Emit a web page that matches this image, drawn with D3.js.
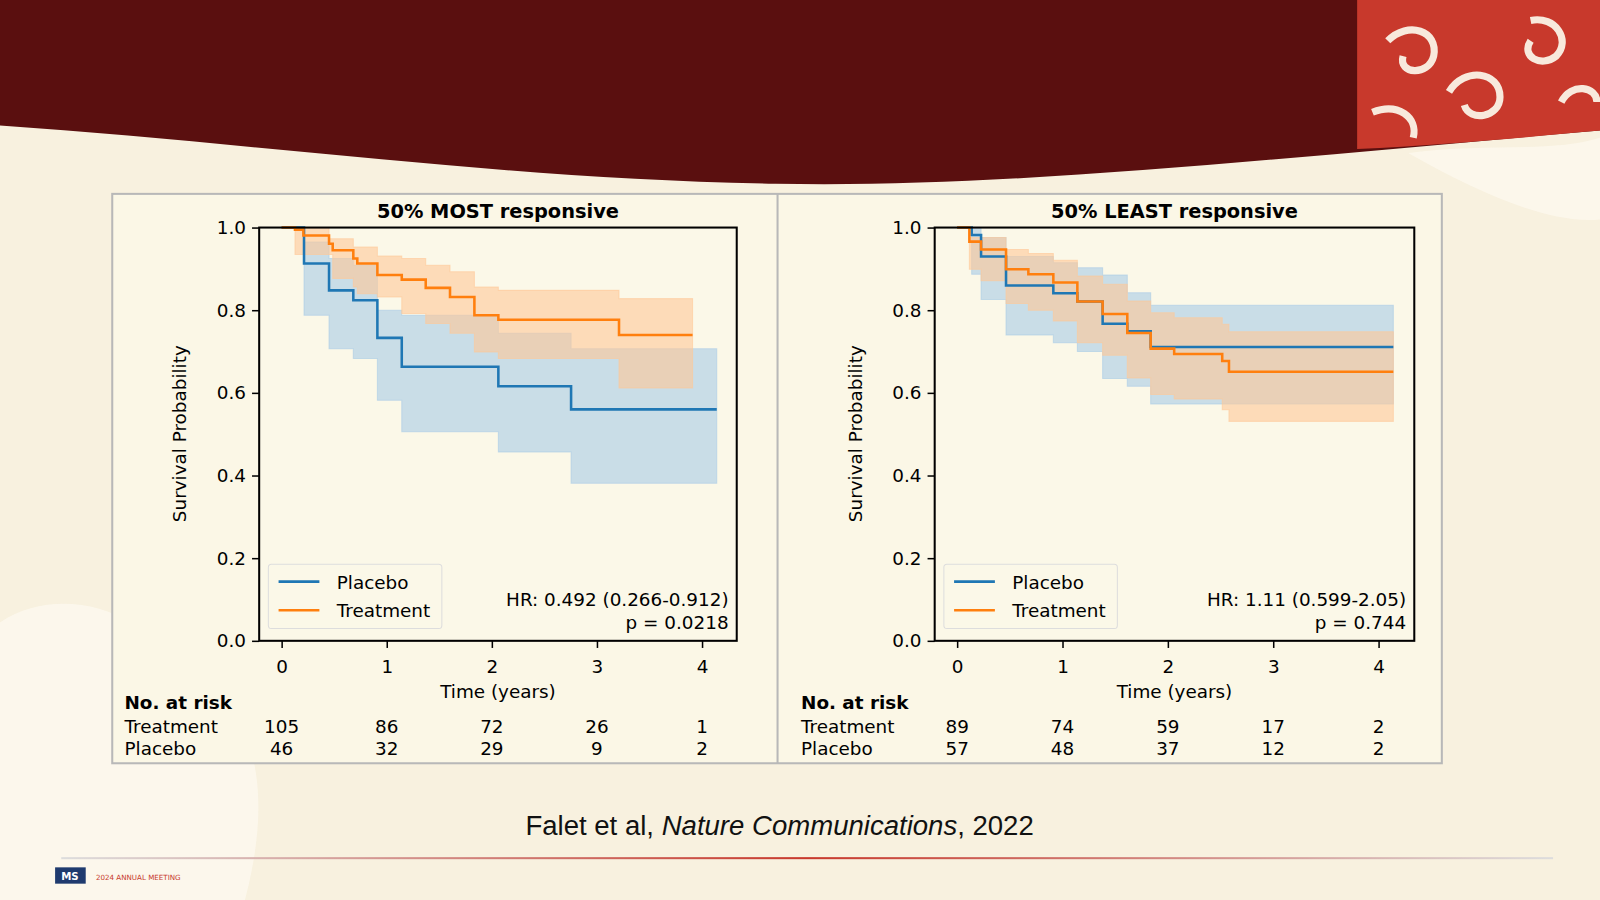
<!DOCTYPE html>
<html><head><meta charset="utf-8">
<script src="https://cdn.jsdelivr.net/npm/d3@7"></script>
<style>body{margin:0;background:#f8f1df;overflow:hidden}text{font-family:"DejaVu Sans",sans-serif}text.cap{font-family:"Liberation Sans",Arial,sans-serif}</style>
</head><body><svg id="c" width="1600" height="900" viewBox="0 0 1568 882"></svg>
<script>
// ---- data ----
const panels = [
  { title: "50% MOST responsive", hr: "HR: 0.492 (0.266-0.912)", p: "p = 0.0218",
    placebo: { t: [0.213,0.451,0.682,0.911,1.143,2.062,2.754], s: [0.913,0.848,0.824,0.733,0.663,0.616,0.560],
               lo: [0.788,0.707,0.683,0.582,0.506,0.457,0.381], hi: [0.965,0.925,0.909,0.80,0.788,0.744,0.707], end: 4.14 },
    treat: { t: [0.127,0.207,0.451,0.486,0.682,0.72,0.911,1.143,1.371,1.602,1.834,2.062,3.21],
             s: [0.995,0.981,0.961,0.945,0.925,0.913,0.885,0.874,0.854,0.832,0.788,0.777,0.740],
             hi: [1.0,1.0,0.973,0.973,0.953,0.953,0.931,0.925,0.909,0.893,0.856,0.848,0.828],
             lo: [0.935,0.935,0.935,0.877,0.856,0.84,0.832,0.792,0.768,0.744,0.699,0.683,0.612], end: 3.91 },
    riskT: [105,86,72,26,1], riskP: [46,32,29,9,2] },
  { title: "50% LEAST responsive", hr: "HR: 1.11 (0.599-2.05)", p: "p = 0.744",
    placebo: { t: [0.138,0.227,0.464,0.913,1.141,1.381,1.615,1.837], s: [0.982,0.930,0.860,0.841,0.821,0.767,0.749,0.711],
               lo: [0.887,0.826,0.74,0.721,0.70,0.635,0.616,0.573], hi: [1.0,0.976,0.93,0.915,0.903,0.885,0.842,0.812], end: 4.14 },
    treat: { t: [0.116,0.227,0.464,0.676,0.913,1.141,1.381,1.615,1.837,2.06,2.516,2.58],
             s: [0.966,0.947,0.899,0.887,0.867,0.821,0.791,0.745,0.707,0.694,0.677,0.651],
             hi: [0.976,0.976,0.947,0.937,0.921,0.883,0.863,0.822,0.794,0.782,0.766,0.748],
             lo: [0.899,0.871,0.816,0.80,0.774,0.721,0.691,0.636,0.596,0.585,0.559,0.531], end: 4.14 },
    riskT: [89,74,59,17,2], riskP: [57,48,37,12,2] }
];
const xTicks = [0,1,2,3,4];
const yTicks = [0,0.2,0.4,0.6,0.8,1.0];
const blue = "#1f77b4", orange = "#ff7f0e";
const bands = { [blue]: "#a9cbe6", [orange]: "#ffc898" };

const svg = d3.select("#c");
// background
svg.append("rect").attr("width",1568).attr("height",882).attr("fill","#f8f1df");
svg.append("path").attr("d","M0,0H1568V128C1300,150 1000,185 760,180C500,176 250,140 0,123Z").attr("fill","#5a0f0f");
svg.append("path").attr("d","M1330,0H1568V128C1500,134 1420,142 1330,146Z").attr("fill","#c8392c");
svg.append("g").attr("fill","none").attr("stroke","#f8e9dc").attr("stroke-width",7)
  .selectAll("path").data(["M1360,40c20,-20 50,-10 45,15c-5,20 -35,18 -30,0","M1420,90c15,-25 50,-20 50,5c0,20 -30,25 -35,8",
    "M1500,20c25,-5 40,20 25,35c-15,12 -35,0 -25,-15","M1530,100c10,-20 35,-15 35,0","M1345,110c25,-10 45,5 40,25"])
  .join("path").attr("d",d=>d);
svg.append("path").attr("d","M0,610C60,570 150,600 170,660C250,680 270,770 240,882H0Z").attr("fill","#fdf9ef").attr("opacity",0.8);
svg.append("path").attr("d","M1380,150C1450,140 1520,150 1568,135V215C1520,220 1450,190 1380,150Z").attr("fill","#fdf9ef").attr("opacity",0.7);

// panel box
svg.append("rect").attr("x",110).attr("y",190).attr("width",1303).attr("height",558)
  .attr("fill","#fbf7e6").attr("stroke","#b8b8b8").attr("stroke-width",2);
svg.append("line").attr("x1",762).attr("x2",762).attr("y1",190).attr("y2",748).attr("stroke","#b8b8b8").attr("stroke-width",2);

const geo = [{x0:254,x1:722,t0:276,t4:688,ylab:182,tab:122},{x0:916,x1:1386,t0:938,t4:1351,ylab:845,tab:785}];

panels.forEach((P,i) => {
  const G = geo[i];
  const x = d3.scaleLinear().domain([0,4]).range([G.t0,G.t4]);
  const y = d3.scaleLinear().domain([0,1]).range([628,223]);
  const g = svg.append("g");
  g.append("rect").attr("x",G.x0).attr("y",223).attr("width",G.x1-G.x0).attr("height",405).attr("fill","#fbf8e8");

  const draw = (D,col) => {
    const pts = [{t:0,s:1,lo:1,hi:1}].concat(D.t.map((t,k)=>({t,s:D.s[k],lo:D.lo[k],hi:D.hi[k]})));
    pts.push(Object.assign({},pts[pts.length-1],{t:D.end}));
    g.append("path").datum(pts).attr("fill",bands[col]).attr("fill-opacity",0.6).attr("stroke",bands[col]).attr("stroke-opacity",0.6)
      .attr("d",d3.area().curve(d3.curveStepAfter).x(d=>x(d.t)).y0(d=>y(d.lo)).y1(d=>y(d.hi)));
    return () => g.append("path").datum(pts).attr("fill","none").attr("stroke",col).attr("stroke-width",2.5)
      .attr("d",d3.line().curve(d3.curveStepAfter).x(d=>x(d.t)).y(d=>y(d.s)));
  };
  const lp = draw(P.placebo,blue), lt = draw(P.treat,orange);
  lp(); lt();

  g.append("rect").attr("x",G.x0).attr("y",223).attr("width",G.x1-G.x0).attr("height",405).attr("fill","none").attr("stroke","#000").attr("stroke-width",2);
  g.append("g").attr("transform","translate(0,628)").call(d3.axisBottom(x).tickValues(xTicks).tickSize(7).tickPadding(12).tickFormat(d3.format("d")))
    .call(a=>{a.select(".domain").remove();a.selectAll("text").attr("font-size",18).attr("font-family","DejaVu Sans").attr("fill","#000");a.selectAll("line").attr("stroke-width",1.5);});
  g.append("g").attr("transform",`translate(${G.x0},0)`).call(d3.axisLeft(y).tickValues(yTicks).tickSize(7).tickPadding(6).tickFormat(d3.format(".1f")))
    .call(a=>{a.select(".domain").remove();a.selectAll("text").attr("font-size",18).attr("font-family","DejaVu Sans").attr("fill","#000");a.selectAll("line").attr("stroke-width",1.5);});

  g.append("text").attr("x",(G.x0+G.x1)/2).attr("y",214).attr("text-anchor","middle").attr("font-size",19).attr("font-weight","bold").text(P.title);
  g.append("text").attr("transform",`translate(${G.ylab},425) rotate(-90)`).attr("text-anchor","middle").attr("font-size",18).text("Survival Probability");
  g.append("text").attr("x",(G.x0+G.x1)/2).attr("y",684).attr("text-anchor","middle").attr("font-size",18).text("Time (years)");

  // legend
  const lx = G.x0+9;
  g.append("rect").attr("x",lx).attr("y",553).attr("width",170).attr("height",63).attr("rx",3).attr("fill","#fbf8e8").attr("stroke","#ddd");
  [["Placebo",blue,570],["Treatment",orange,598]].forEach(([n,c,yy])=>{
    g.append("line").attr("x1",lx+10).attr("x2",lx+50).attr("y1",yy).attr("y2",yy).attr("stroke",c).attr("stroke-width",2.5);
    g.append("text").attr("x",lx+67).attr("y",yy+7).attr("font-size",18).text(n);
  });
  g.append("text").attr("x",G.x1-8).attr("y",594).attr("text-anchor","end").attr("font-size",18).text(P.hr);
  g.append("text").attr("x",G.x1-8).attr("y",616).attr("text-anchor","end").attr("font-size",18).text(P.p);

  // risk table
  g.append("text").attr("x",G.tab).attr("y",695).attr("font-size",18).attr("font-weight","bold").text("No. at risk");
  g.append("text").attr("x",G.tab).attr("y",718).attr("font-size",18).text("Treatment");
  g.append("text").attr("x",G.tab).attr("y",740).attr("font-size",18).text("Placebo");
  xTicks.forEach((t,k)=>{
    g.append("text").attr("x",x(t)).attr("y",718).attr("text-anchor","middle").attr("font-size",18).text(P.riskT[k]);
    g.append("text").attr("x",x(t)).attr("y",740).attr("text-anchor","middle").attr("font-size",18).text(P.riskP[k]);
  });
});

// caption & footer
const cap = svg.append("text").attr("class","cap").attr("x",764).attr("y",818).attr("text-anchor","middle").attr("font-size",27).attr("fill","#111");
cap.append("tspan").text("Falet et al, ");
cap.append("tspan").attr("font-style","italic").text("Nature Communications");
cap.append("tspan").text(", 2022");
const fg = svg.append("defs").append("linearGradient").attr("id","fl");
[["0%","#ddd"],["50%","#c8392c"],["100%","#ddd"]].forEach(([o,c])=>fg.append("stop").attr("offset",o).attr("stop-color",c));
svg.append("rect").attr("x",60).attr("y",840).attr("width",1462).attr("height",2).attr("fill","url(#fl)");
svg.append("rect").attr("x",54).attr("y",850).attr("width",30).attr("height",16).attr("fill","#1f3a6e");
svg.append("text").attr("x",60).attr("y",862).attr("font-size",10).attr("font-weight","bold").attr("fill","#fff").text("MS");
svg.append("text").attr("x",94).attr("y",862).attr("font-size",7).attr("fill","#c8392c").text("2024 ANNUAL MEETING");
</script></body></html>
